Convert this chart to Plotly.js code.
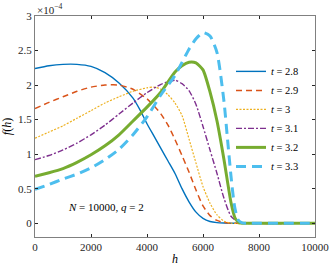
<!DOCTYPE html>
<html>
<head>
<meta charset="utf-8">
<script src="https://cdn.plot.ly/plotly-3.0.1.min.js"></script>
<style>html,body{margin:0;padding:0;background:#fff;}#chart{width:332px;height:266px;}</style>
</head>
<body>
<div id="chart"></div>
<script>
// f(h) values in units of 1e-4
const h28 = [0,500,1000,1500,2000,2500,3000,3500,3750,4000,4250,4500,4750,5000,5250,5500,5750,6000,6250,6500,6750,7000,10000];
const f28 = [2.24,2.28,2.30,2.30,2.27,2.18,2.03,1.81,1.64,1.44,1.26,1.08,0.90,0.72,0.50,0.31,0.16,0.07,0.025,0.008,0.002,0,0];
const h29 = [0,500,1000,1500,2000,2500,3000,3500,4000,4250,4500,4750,5000,5250,5500,5750,6000,6250,6500,6750,7000,10000];
const f29 = [1.66,1.75,1.83,1.91,1.97,2.0,2.0,1.94,1.80,1.70,1.58,1.42,1.21,0.98,0.74,0.48,0.25,0.11,0.04,0.01,0,0];
const h30 = [0,500,1000,1500,2000,2500,3000,3500,4000,4250,4500,4750,5000,5250,5500,5750,6000,6250,6500,6750,7000,10000];
const f30 = [1.23,1.32,1.41,1.52,1.63,1.74,1.83,1.91,1.96,1.97,1.94,1.86,1.74,1.56,1.22,0.87,0.53,0.29,0.12,0.03,0,0];
const h31 = [0,500,1000,1500,2000,2500,3000,3500,4000,4500,5000,5250,5500,5750,6000,6250,6500,6750,7000,7250,7500,10000];
const f31 = [0.92,0.98,1.06,1.16,1.28,1.42,1.58,1.74,1.89,2.01,2.07,2.02,1.92,1.72,1.40,1.06,0.72,0.36,0.10,0.02,0,0];
const h32 = [0,500,1000,1500,2000,2500,3000,3500,4000,4500,5000,5250,5500,5750,6000,6250,6500,6750,7000,7150,7300,7500,10000];
const f32 = [0.68,0.73,0.79,0.88,0.99,1.12,1.28,1.48,1.68,1.90,2.19,2.28,2.33,2.32,2.22,1.90,1.48,0.92,0.30,0.07,0.005,0,0];
const h33 = [0,500,1000,1500,2000,2500,3000,3500,4000,4500,5000,5500,5750,6000,6250,6500,6750,6875,7000,7125,7250,7400,7600,10000];
const f33 = [0.49,0.56,0.64,0.71,0.80,0.92,1.07,1.28,1.54,1.86,2.14,2.52,2.67,2.76,2.71,2.47,1.76,1.22,0.68,0.25,0.05,0.005,0,0];
const seriesNames = ['<i>t</i> = 2.8','<i>t</i> = 2.9','<i>t</i> = 3','<i>t</i> = 3.1','<i>t</i> = 3.2','<i>t</i> = 3.3'];
const xTicks = [0,2000,4000,6000,8000,10000];
const yTicks = [0,0.5,1,1.5,2,2.5,3];
const yTickText = ['0','0.5','1','1.5','2','2.5','3'];

const xs = [h28,h29,h30,h31,h32,h33];
const ys = [f28,f29,f30,f31,f32,f33];
const colors = ['#0072BD','#D95319','#EDB120','#7E2F8E','#77AC30','#4DBEEE'];
const widths = [1.4,1.5,1.2,1.4,3,3];
const dashes = ['solid','6px,4px','2px,1.5px','6px,2px,2px,2px','solid','10px,6px'];

const traces = xs.map((x,i)=>({
  x:x, y:ys[i], type:'scatter', mode:'lines', name:seriesNames[i],
  line:{color:colors[i], width:widths[i], dash:dashes[i], shape:'spline', smoothing:0.6}
}));

const font = {family:'Liberation Serif, DejaVu Serif, serif', size:11, color:'#262626'};
const layout = {
  width:332, height:266,
  margin:{l:35, r:17, t:16, b:29},
  paper_bgcolor:'#fff', plot_bgcolor:'#fff',
  font:font,
  showlegend:true,
  legend:{x:0.70, y:0.815, xanchor:'left', yanchor:'top', bgcolor:'rgba(255,255,255,0)', borderwidth:0, font:{family:font.family, size:10.5, color:'#000'}, itemwidth:30, tracegroupgap:0},
  xaxis:{range:[0,10000], tickvals:xTicks, ticktext:xTicks.map(String), ticks:'inside', ticklen:3, tickcolor:'#262626',
    showline:true, linecolor:'#808080', linewidth:1, mirror:'ticks', showgrid:false, zeroline:false,
    title:{text:'<i>h</i>', font:{family:font.family, size:12, color:'#000'}, standoff:4}},
  yaxis:{range:[-0.2,3], tickvals:yTicks, ticktext:yTickText, ticks:'inside', ticklen:3, tickcolor:'#262626',
    showline:true, linecolor:'#808080', linewidth:1, mirror:'ticks', showgrid:false, zeroline:false,
    title:{text:'<i>f</i>(<i>h</i>)', font:{family:font.family, size:12, color:'#000'}, standoff:6}},
  annotations:[
    {xref:'paper', yref:'paper', x:0, y:1, xanchor:'left', yanchor:'bottom', text:'×10<sup>−4</sup>', showarrow:false, font:{family:font.family, size:11, color:'#262626'}, yshift:-2},
    {xref:'x', yref:'y', x:2550, y:0.24, text:'<i>N</i> = 10000, <i>q</i> = 2', showarrow:false, font:{family:font.family, size:11, color:'#000'}}
  ]
};
Plotly.newPlot('chart', traces, layout, {staticPlot:true, displayModeBar:false});
</script>
</body>
</html>
